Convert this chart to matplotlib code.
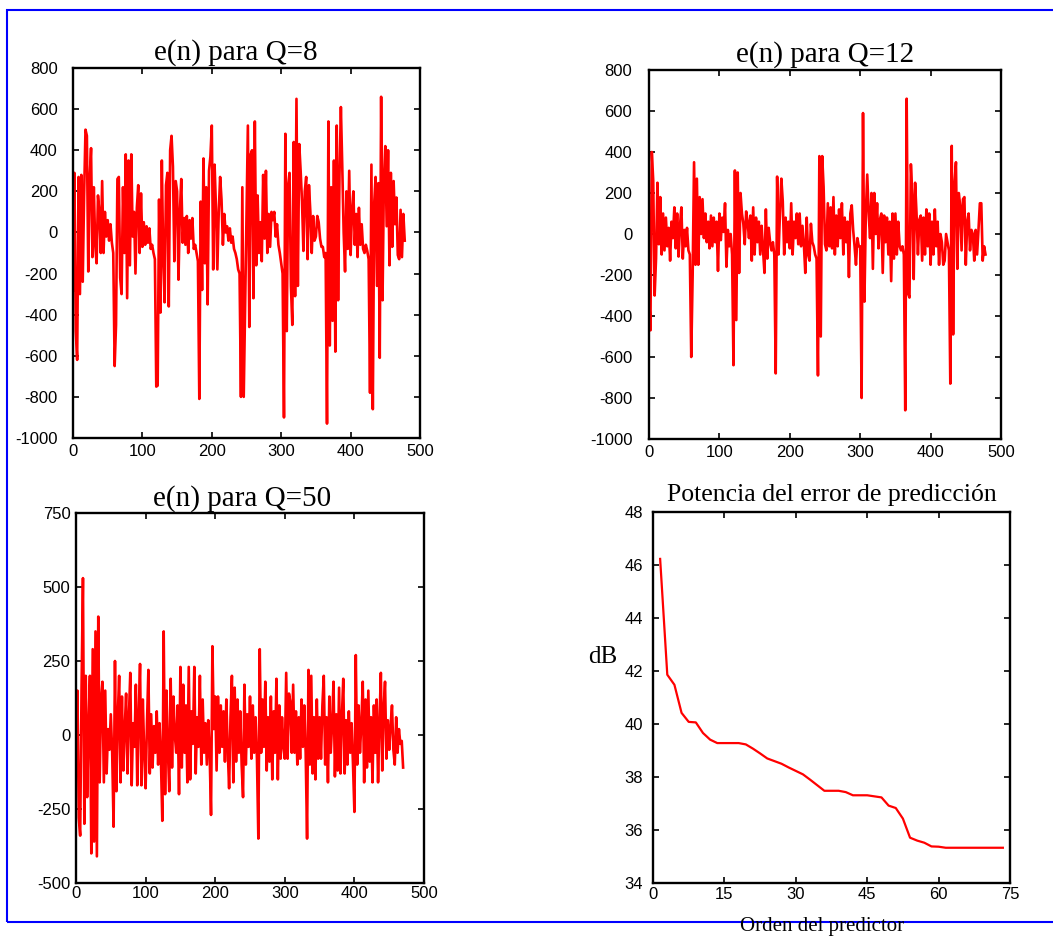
import matplotlib
matplotlib.use("Agg")
import matplotlib.pyplot as plt
from matplotlib.patches import Rectangle
import numpy as np

# e(n) para Q=8, read every 2 samples (n = 0, 2, ..., 478)
e_q8 = [-280, 290, -480, -620, 270, -300, 280, -240, 180, 500,
        470, -190, 260, 410, -120, 220, -60, -150, 180, 100,
        -100, 250, -100, 100, -20, 60, -40, 40, -50, -100,
        -650, -450, 260, 270, -220, -300, 220, -100, 380, -320,
        350, -160, 380, -20, 100, -200, 120, 230, -100, 190,
        -70, 50, -60, 30, -50, 20, -80, -60, -100, -130,
        -750, -745, 160, -390, 350, -120, -340, 230, 290, -360,
        400, 470, 320, -140, 250, 200, -230, 100, 260, -50,
        70, -60, 80, -100, 60, -30, 70, -80, -60, -100,
        -140, -810, 150, -280, 360, -150, 220, -350, 300, 370,
        520, -180, 330, 120, -180, 100, 270, 160, -60, 90,
        0, 30, -40, 20, -50, -20, -80, -100, -130, -180,
        -200, -800, 220, -800, -360, 70, 520, -460, 380, 400,
        -320, 540, -160, 180, -100, 50, -140, 280, -30, 300,
        -100, 90, -70, 100, 60, 100, -20, 40, -60, -100,
        -150, -200, -900, 480, -480, 230, 290, -260, -450, 440,
        -310, 650, -260, 430, 300, 150, -90, 200, 270, -130,
        230, 100, -100, 80, -40, -20, 80, 50, -30, -70,
        -70, -120, -100, -930, 540, -550, 220, -430, 350, -580,
        520, -330, 280, 610, 320, 0, -190, 200, -80, 300,
        -110, 100, 200, -60, 90, -120, 120, -60, 40, -80,
        -100, -60, -90, -130, -780, 330, -860, 140, 270, -260,
        240, -610, 660, -330, 260, 420, 30, 400, -160, 290,
        -70, 250, 40, 170, -110, -130, 110, -120, 90, -40]

# e(n) para Q=12, n = 0, 2, ..., 478
e_q12 = [-280, -470, 400, 260, -300, -120, 250, -50, 180, -100,
         100, -80, 80, -60, 30, -130, 60, -20, 130, -70,
         100, -110, 40, 130, -120, 20, -60, 30, -80, -100,
         -600, -200, 350, -150, 270, -150, 180, 0, 170, -20,
         100, -40, 60, -70, 90, -60, 80, -40, 60, -180,
         100, -30, 80, 10, 150, -160, 20, -60, 0, -100,
         -640, 310, -420, 300, -190, 200, 100, 50, -50, 110,
         60, -20, 90, -130, 130, -100, 80, -40, 60, -100,
         40, -80, -190, 120, -120, 30, -40, -80, -40, -100,
         -680, 280, -100, 100, 270, 160, -100, 80, -40, 60,
         -70, 150, -100, 60, -20, 100, -50, 100, -60, 40,
         -50, -190, 80, -100, -130, 50, -40, -60, -100, -120,
         -690, 380, -500, 380, 230, -50, -80, 150, -60, 130,
         -70, 180, -100, 90, -60, 120, -20, 150, -100, 80,
         -40, 60, -210, 100, 140, 20, -60, -150, -20, -60,
         -60, -800, 590, -330, 100, 290, 100, -20, 200, -170,
         200, 0, 150, -70, 70, 100, -190, 90, -40, 80,
         -100, 60, -230, 100, -120, 100, -100, 60, -60, -80,
         -60, -100, -860, 660, -290, -310, 340, 190, -220, 250,
         100, -100, 70, 90, -130, 80, -100, 120, -60, 100,
         -150, 60, -100, 120, -60, 60, -150, 0, -40, -150,
         -130, 0, -40, -80, -730, 430, -490, 250, 350, -170,
         200, 140, -80, 170, 180, -150, 60, 100, -80, 20,
         0, -130, 20, -100, 20, 150, 150, -130, -60, -100]

# e(n) para Q=50, n = 0, 2, ..., 470
e_q50 = [-30, 150, -280, -340, 160, 530, -300, 200, -210, 30,
         200, -400, 290, -360, 350, -410, 400, -160, 120, 180,
         -160, 150, -130, 20, -50, 70, -60, -310, 250, -190,
         60, 200, -160, 130, -120, 20, 140, -130, 60, 210,
         -170, 40, -40, 170, -170, 60, 240, -170, 120, -60,
         -180, 40, 220, -130, 70, -110, 30, -60, 80, -100,
         40, -80, -290, 350, -200, 150, -50, -190, 190, -110,
         130, 0, -60, 100, -200, 230, -110, 170, -60, 100,
         -160, 230, -150, 80, -30, 230, -130, 60, -40, 200,
         -100, 120, -60, 40, -100, 50, -60, -270, 300, 20,
         130, -120, 130, -60, 100, -40, 80, -90, 120, -50,
         -180, 60, 200, -160, 160, -90, 120, -60, 80, -100,
         -210, 170, -100, 70, -40, 130, -80, 100, -60, 60,
         -80, -350, 290, -60, 120, -40, 180, -120, 60, -90,
         130, -150, 80, -60, 190, -150, 100, -80, 60, -40,
         -80, 210, -80, 140, 110, -60, 170, -60, 80, -100,
         60, -80, 120, -40, 100, -60, -350, 220, -100, 200,
         -130, 60, -150, 120, -80, 60, -80, 100, 200, -100,
         60, -160, 130, -60, 40, 180, -140, 70, -120, 160,
         -130, 60, 190, -130, 50, -100, 80, -60, 40, -100,
         -260, 270, -100, 100, -60, 40, 180, -160, 120, -110,
         150, -90, 60, -160, 100, -60, 120, -160, 40, 210,
         -120, 90, 180, -80, 50, -50, 30, 100, -50, -100,
         60, -60, 20, -30, -20, -110]

# Potencia del error de predicción (dB)
potencia_db = [46.23, 41.86, 41.48, 40.42, 40.08, 40.06, 39.66, 39.41, 39.28, 39.28,
               39.28, 39.28, 39.23, 39.07, 38.89, 38.70, 38.60, 38.50, 38.36, 38.23,
               38.10, 37.90, 37.69, 37.48, 37.48, 37.48, 37.43, 37.31, 37.31, 37.31,
               37.27, 37.23, 36.92, 36.83, 36.43, 35.71, 35.60, 35.52, 35.38, 35.37,
               35.33, 35.33, 35.33, 35.33, 35.33, 35.33, 35.33, 35.33, 35.33]

n_q8 = np.arange(len(e_q8)) * 2
n_q12 = np.arange(len(e_q12)) * 2
n_q50 = np.arange(len(e_q50)) * 2
orden = (np.arange(len(potencia_db)) + 1) * 1.5

plt.rcParams['font.family'] = ['Liberation Sans', 'DejaVu Sans']
plt.rcParams['axes.unicode_minus'] = False
serif = ['Liberation Serif', 'DejaVu Serif']

fig = plt.figure(figsize=(10.53, 9.36), dpi=100)
W, H = 1053, 936


def make_axes(l, t, r, b):
    return fig.add_axes([l / W, 1 - b / H, (r - l) / W, (b - t) / H])


def style(ax, ypad, xpad):
    for s in ax.spines.values():
        s.set_linewidth(1.7)
    ax.tick_params(direction='in', top=True, right=True, length=4, width=1.2,
                   labelsize=12, colors='black')
    ax.tick_params(axis='y', pad=ypad)
    ax.tick_params(axis='x', pad=xpad)


red = '#ff0000'

ax1 = make_axes(73, 68, 420, 438)
ax1.plot(n_q8, e_q8, color=red, lw=1.9)
ax1.set_xlim(0, 500)
ax1.set_ylim(-1000, 800)
ax1.set_xticks(range(0, 501, 100))
ax1.set_yticks(range(-1000, 801, 200))
style(ax1, 11, 4)
ax1.set_title('e(n) para Q=8', family=serif, fontsize=21, x=0.47, pad=6)

ax2 = make_axes(649, 70, 1001, 439)
ax2.plot(n_q12, e_q12, color=red, lw=1.9)
ax2.set_xlim(0, 500)
ax2.set_ylim(-1000, 800)
ax2.set_xticks(range(0, 501, 100))
ax2.set_yticks(range(-1000, 801, 200))
style(ax2, 12, 4)
ax2.set_title('e(n) para Q=12', family=serif, fontsize=21, pad=6)

ax3 = make_axes(76, 513, 424, 883)
ax3.plot(n_q50, e_q50, color=red, lw=1.9)
ax3.set_xlim(0, 500)
ax3.set_ylim(-500, 750)
ax3.set_xticks(range(0, 501, 100))
ax3.set_yticks([-500, -250, 0, 250, 500, 750])
style(ax3, 4, 2)
ax3.set_title('e(n) para Q=50', family=serif, fontsize=21, x=0.477, pad=5)

ax4 = make_axes(653, 512, 1010, 883)
ax4.plot(orden, potencia_db, color=red, lw=1.6)
ax4.set_xlim(0, 75)
ax4.set_ylim(34, 48)
ax4.set_xticks(range(0, 76, 15))
ax4.set_yticks(range(34, 49, 2))
style(ax4, 7, 3)
ax4.set_title('Potencia del error de predicción', family=serif, fontsize=18.5, pad=8)

fig.text(603 / W, 1 - 657 / H, 'dB', family=serif, fontsize=18,
         ha='center', va='center')
fig.text(822 / W, 1 - 927 / H, 'Orden del predictor', family=serif, fontsize=15,
         ha='center', va='center')

# blue frame around the figure
fig.patches.append(Rectangle((7 / W, 1 - 922 / H), 1.2, (922 - 10) / H,
                             transform=fig.transFigure, fill=False,
                             edgecolor='#0000ff', lw=1.5, clip_on=False))

fig.savefig('out.png', dpi=100)
